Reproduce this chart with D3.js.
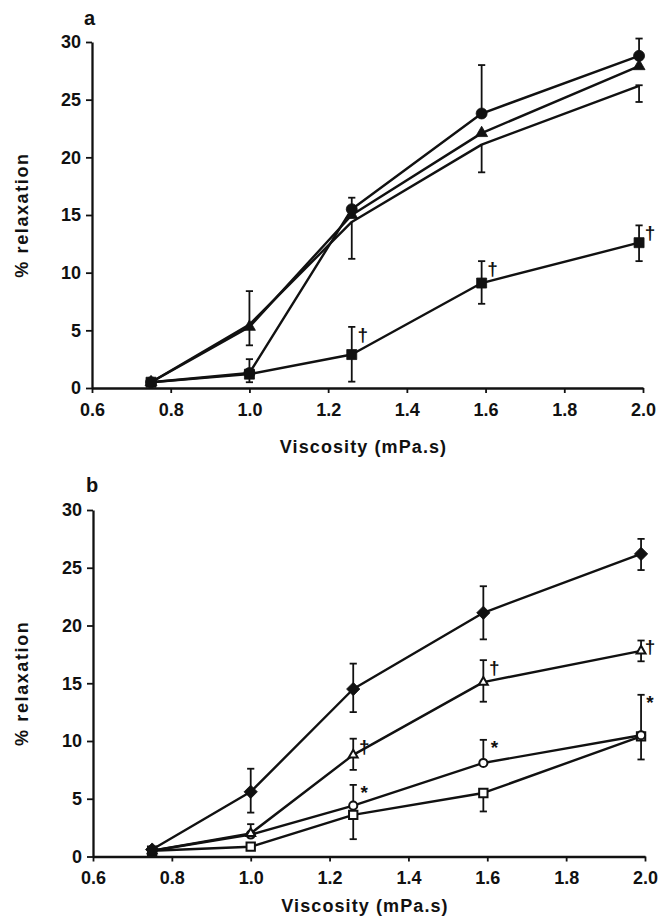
<!DOCTYPE html>
<html>
<head>
<meta charset="utf-8">
<script src="https://cdn.jsdelivr.net/npm/d3@7/dist/d3.min.js"></script>
<style>
  html, body { margin: 0; padding: 0; background: #fff; }
  svg { display: block; }
  text { font-family: "Liberation Sans", Arial, Helvetica, sans-serif; fill: #111; }
</style>
</head>
<body>
<svg id="chart" width="658" height="922"></svg>
<script>
// ---------- data ----------
const viscosity = [0.75, 1.0, 1.26, 1.59, 1.99];
const xTickValues = [0.6, 0.8, 1.0, 1.2, 1.4, 1.6, 1.8, 2.0];
const yTickValues = [0, 5, 10, 15, 20, 25, 30];

// panel a
const aCircleMean  = [0.5, 1.3, 15.5, 23.8, 28.8];
const aCircleUp    = [0, 0, 1.0, 4.2, 1.5];
const aCircleDown  = [0, 0, 0, 0, 0];
const aTriMean     = [0.5, 5.3, 15.0, 22.1, 27.9];
const aTriUp       = [0, 3.1, 0, 0, 0];
const aTriDown     = [0, 1.6, 0, 0, 0];
const aCtrlMean    = [0.5, 5.5, 14.4, 21.1, 26.2];
const aCtrlUp      = [0, 0, 0, 0, 0.05];
const aCtrlDown    = [0, 0, 3.2, 2.4, 1.4];
const aSqMean      = [0.5, 1.2, 2.9, 9.1, 12.6];
const aSqUp        = [0, 1.3, 2.4, 1.9, 1.5];
const aSqDown      = [0, 0.7, 2.35, 1.8, 1.6];
const aDaggerIdx   = [2, 3, 4];

// panel b
const bDiaMean     = [0.6, 5.6, 14.5, 21.1, 26.2];
const bDiaUp       = [0, 2.0, 2.2, 2.3, 1.3];
const bDiaDown     = [0, 1.8, 2.0, 2.3, 1.4];
const bTriMean     = [0.5, 2.0, 8.8, 15.1, 17.8];
const bTriUp       = [0, 0, 1.4, 1.9, 0.9];
const bTriDown     = [0, 0, 1.3, 1.7, 0.9];
const bCircMean    = [0.5, 1.9, 4.4, 8.1, 10.5];
const bCircUp      = [0, 0.9, 1.8, 2.0, 3.5];
const bCircDown    = [0, 0, 0, 0, 0];
const bSqMean      = [0.5, 0.85, 3.6, 5.5, 10.4];
const bSqUp        = [0, 0, 0, 0, 0];
const bSqDown      = [0, 0, 2.1, 1.6, 2.0];
const bDaggerIdx   = [2, 3, 4];
const bStarIdx     = [2, 3, 4];

const xLabel = "Viscosity (mPa.s)";
const yLabel = "% relaxation";

// ---------- drawing ----------
const svg = d3.select("#chart");
const FONT = 18;

function makeSeries(mean, up, down, marker, filled) {
  return viscosity.map((v, i) => ({ x: v, y: mean[i], up: up[i], down: down[i], marker, filled }));
}

function drawPanel(cfg) {
  const x = d3.scaleLinear().domain([0.6, 2.0]).range(cfg.xRange);
  const y = d3.scaleLinear().domain([0, 30]).range(cfg.yRange);
  const g = svg.append("g");

  // axes
  const xAxis = d3.axisBottom(x).tickValues(xTickValues).tickFormat(d3.format(".1f"))
    .tickSize(5).tickSizeOuter(0).tickPadding(10);
  const yAxis = d3.axisLeft(y).tickValues(yTickValues).tickFormat(d3.format("d"))
    .tickSize(6).tickSizeOuter(0).tickPadding(5);
  const gx = g.append("g").attr("transform", `translate(0,${cfg.yRange[0]})`).call(xAxis);
  const gy = g.append("g").attr("transform", `translate(${cfg.xRange[0]},0)`).call(yAxis);
  [gx, gy].forEach(a => {
    a.selectAll("path.domain").attr("stroke", "#111").attr("stroke-width", 2.3);
    a.selectAll(".tick line").attr("stroke", "#111").attr("stroke-width", 1.8);
    a.selectAll(".tick text").style("font-family", '"Liberation Sans", Arial, sans-serif')
      .style("font-size", FONT + "px").style("font-weight", "bold").attr("fill", "#111");
  });

  // axis titles
  g.append("text")
    .attr("x", (cfg.xRange[0] + cfg.xRange[1]) / 2 - 4).attr("y", cfg.xLabelY)
    .attr("text-anchor", "middle").style("font-size", FONT + "px").style("font-weight", "bold")
    .style("letter-spacing", "1.1px")
    .text(xLabel);
  const yMid = (cfg.yRange[0] + cfg.yRange[1]) / 2;
  g.append("text")
    .attr("transform", `translate(28,${yMid}) rotate(-90)`)
    .attr("text-anchor", "middle").style("font-size", FONT + "px").style("font-weight", "bold")
    .style("letter-spacing", "1.6px")
    .text(yLabel);

  // panel letter
  g.append("text").attr("x", cfg.letterX).attr("y", cfg.letterY)
    .style("font-size", "20px").style("font-weight", "bold").text(cfg.letter);

  const line = d3.line().x(d => x(d.x)).y(d => y(d.y));

  // lines
  cfg.series.forEach(s => {
    g.append("path").datum(s).attr("d", line)
      .attr("fill", "none").attr("stroke", "#111").attr("stroke-width", 2.4)
      .attr("stroke-linejoin", "round");
  });

  // error bars
  const cap = 3.6;
  cfg.series.forEach(s => {
    s.forEach(d => {
      const cx = x(d.x);
      if (d.up > 0) {
        g.append("line").attr("x1", cx).attr("x2", cx).attr("y1", y(d.y)).attr("y2", y(d.y + d.up))
          .attr("stroke", "#111").attr("stroke-width", 1.8);
        g.append("line").attr("x1", cx - cap).attr("x2", cx + cap).attr("y1", y(d.y + d.up)).attr("y2", y(d.y + d.up))
          .attr("stroke", "#111").attr("stroke-width", 1.8);
      }
      if (d.down > 0) {
        g.append("line").attr("x1", cx).attr("x2", cx).attr("y1", y(d.y)).attr("y2", y(d.y - d.down))
          .attr("stroke", "#111").attr("stroke-width", 1.8);
        g.append("line").attr("x1", cx - cap).attr("x2", cx + cap).attr("y1", y(d.y - d.down)).attr("y2", y(d.y - d.down))
          .attr("stroke", "#111").attr("stroke-width", 1.8);
      }
    });
  });

  // markers
  cfg.series.forEach(s => {
    s.forEach(d => {
      if (d.marker === "none") return;
      let sym, size, rot = 0;
      if (d.marker === "circle") { sym = d3.symbolCircle; size = d.filled ? 95 : 52; }
      else if (d.marker === "triangle") { sym = d3.symbolTriangle; size = d.filled ? 62 : 34; }
      else if (d.marker === "square") { sym = d3.symbolSquare; size = d.filled ? 100 : 70; }
      else if (d.marker === "diamond") { sym = d3.symbolSquare; size = 88; rot = 45; }
      g.append("path")
        .attr("d", d3.symbol().type(sym).size(size)())
        .attr("transform", `translate(${x(d.x)},${y(d.y)}) rotate(${rot})`)
        .attr("fill", d.filled ? "#111" : "#fff")
        .attr("stroke", "#111").attr("stroke-width", d.filled ? 0.8 : 2);
    });
  });

  // significance annotations
  cfg.notes.forEach(n => {
    n.idx.forEach(i => {
      const d = n.series[i];
      const topY = y(d.y + d.up);
      const ty = Math.min(y(d.y) - 3, topY + 9);
      g.append("text").attr("x", Math.min(x(d.x) + 11, 650)).attr("y", ty)
        .attr("text-anchor", "middle")
        .attr("dominant-baseline", "middle")
        .style("font-size", "19px").style("font-weight", "bold").text(n.symbol);
    });
  });
}

// panel a
const aCircle = makeSeries(aCircleMean, aCircleUp, aCircleDown, "circle", true);
const aTri = makeSeries(aTriMean, aTriUp, aTriDown, "triangle", true);
const aCtrl = makeSeries(aCtrlMean, aCtrlUp, aCtrlDown, "none", true);
const aSq = makeSeries(aSqMean, aSqUp, aSqDown, "square", true);
drawPanel({
  xRange: [92, 643], yRange: [388, 42], xLabelY: 453, letter: "a", letterX: 84, letterY: 25,
  series: [aCtrl, aSq, aTri, aCircle],
  notes: [{ series: aSq, idx: aDaggerIdx, symbol: "†" }]
});

// panel b
const bDia = makeSeries(bDiaMean, bDiaUp, bDiaDown, "diamond", true);
const bTri = makeSeries(bTriMean, bTriUp, bTriDown, "triangle", false);
const bCirc = makeSeries(bCircMean, bCircUp, bCircDown, "circle", false);
const bSq = makeSeries(bSqMean, bSqUp, bSqDown, "square", false);
drawPanel({
  xRange: [93, 645], yRange: [856.5, 510], xLabelY: 912, letter: "b", letterX: 86, letterY: 492,
  series: [bSq, bCirc, bTri, bDia],
  notes: [{ series: bTri, idx: bDaggerIdx, symbol: "†" }, { series: bCirc, idx: bStarIdx, symbol: "*" }]
});
</script>
</body>
</html>
